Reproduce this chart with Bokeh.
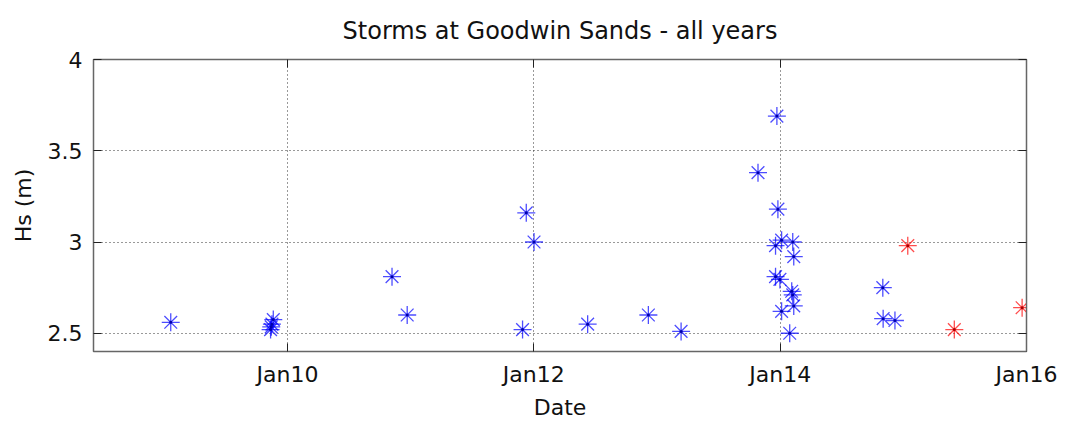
import pandas as pd
from bokeh.plotting import figure
from bokeh.models import (ColumnDataSource, FixedTicker, DatetimeAxis, LinearAxis,
                          DatetimeTickFormatter, Range1d, CustomLabelingPolicy)
from bokeh.embed import file_html
from bokeh.resources import INLINE

# ---- data ----
blue_dates = ["2009-01-20", "2009-11-20", "2009-11-16", "2009-11-12", "2009-11-14",
              "2010-11-07", "2010-12-22", "2011-12-10", "2012-01-02", "2011-11-29",
              "2012-06-09", "2012-12-06", "2013-03-13", "2013-12-22", "2013-10-27",
              "2013-12-25", "2014-01-05", "2014-02-07", "2013-12-18", "2014-02-10",
              "2013-12-18", "2013-12-31", "2014-02-04", "2014-02-07", "2014-02-10",
              "2014-01-05", "2014-01-29", "2014-11-01", "2014-11-02", "2014-12-07"]
blue_hs = [2.56, 2.575, 2.55, 2.52, 2.535,
           2.81, 2.60, 3.16, 3.00, 2.52,
           2.55, 2.60, 2.51, 3.69, 3.38,
           3.18, 3.01, 3.00, 2.98, 2.92,
           2.81, 2.795, 2.73, 2.71, 2.65,
           2.62, 2.50, 2.75, 2.58, 2.57]
red_dates = ["2015-01-14", "2015-06-01", "2015-12-19"]
red_hs = [2.98, 2.52, 2.64]

x_tick_dates = ["2010-01-01", "2012-01-01", "2014-01-01", "2016-01-01"]
y_ticks = [2.5, 3.0, 3.5, 4.0]
y_tick_labels = ["2.5", "3", "3.5", "4"]
x_limits = ["2008-06-05", "2016-01-01"]
y_limits = [2.4, 4.0]

title_text = "Storms at Goodwin Sands - all years"
x_label = "Date"
y_label = "Hs (m)"

FONT = "DejaVu Sans"

def ms(d):
    return pd.Timestamp(d).value / 1e6

blue_src = ColumnDataSource(dict(x=pd.to_datetime(blue_dates), y=blue_hs))
red_src = ColumnDataSource(dict(x=pd.to_datetime(red_dates), y=red_hs))

p = figure(width=1069, height=426, output_backend="svg", toolbar_location=None,
           x_axis_type="datetime",
           x_range=Range1d(ms(x_limits[0]), ms(x_limits[1])),
           y_range=Range1d(y_limits[0], y_limits[1]),
           min_border_left=93, min_border_right=43, min_border_top=58, min_border_bottom=75)

p.title.text = title_text
p.title.align = "center"
p.title.vertical_align = "bottom"
p.title.text_font = FONT
p.title.text_font_size = "24px"
p.title.text_font_style = "normal"
p.title.text_color = "#111111"
p.title.standoff = 29

xticker = FixedTicker(ticks=[ms(d) for d in x_tick_dates])
yticker = FixedTicker(ticks=y_ticks)
fmt = "%b%y"
xfmt = DatetimeTickFormatter(years=fmt, months=fmt, days=fmt, hours=fmt, minutes=fmt,
                             seconds=fmt, milliseconds=fmt, microseconds=fmt,
                             hourmin=fmt, minsec=fmt)

xa = p.xaxis[0]
xa.ticker = xticker
xa.formatter = xfmt
ya = p.yaxis[0]
ya.ticker = yticker
ya.major_label_overrides = {t: l for t, l in zip(y_ticks, y_tick_labels)}

for ax in (xa, ya):
    ax.major_tick_in = 8
    ax.major_tick_out = 0
    ax.minor_tick_in = 0
    ax.minor_tick_out = 0
    ax.major_tick_line_color = "#222222"
    ax.axis_line_color = "#666666"
    ax.major_label_text_font = FONT
    ax.major_label_text_font_size = "22px"
    ax.major_label_text_color = "#111111"
    ax.axis_label_text_font = FONT
    ax.axis_label_text_font_size = "22px"
    ax.axis_label_text_font_style = "normal"
    ax.axis_label_text_color = "#111111"

xa.axis_label = x_label
xa.major_label_standoff = 10
xa.axis_label_standoff = 5
ya.axis_label = y_label
ya.major_label_standoff = 11
ya.axis_label_standoff = 9

hide_all = CustomLabelingPolicy(code="return []")
top = DatetimeAxis(ticker=xticker, formatter=xfmt)
right = LinearAxis(ticker=yticker)
for ax in (top, right):
    ax.major_tick_in = 8
    ax.major_tick_out = 0
    ax.minor_tick_in = 0
    ax.minor_tick_out = 0
    ax.major_tick_line_color = "#222222"
    ax.axis_line_color = "#666666"
    ax.major_label_policy = hide_all
    ax.major_label_standoff = 0
    ax.major_label_text_font_size = "0px"
p.add_layout(top, "above")
p.add_layout(right, "right")

p.outline_line_color = "#666666"
p.outline_line_width = 1.5

for g in (p.xgrid[0], p.ygrid[0]):
    g.grid_line_color = "#333333"
    g.grid_line_dash = "1 3"
    g.grid_line_width = 1
p.xgrid[0].ticker = xticker
p.ygrid[0].ticker = yticker

p.scatter("x", "y", source=blue_src, marker="asterisk", size=18,
          line_color="blue", line_alpha=0.7, line_width=1.3)
p.scatter("x", "y", source=blue_src, marker="circle", size=3,
          fill_color="#0000aa", line_color=None)
p.scatter("x", "y", source=red_src, marker="asterisk", size=18,
          line_color="red", line_alpha=0.7, line_width=1.3)
p.scatter("x", "y", source=red_src, marker="circle", size=3,
          fill_color="#aa0000", line_color=None)

open("out.html", "w").write(file_html(p, INLINE))
